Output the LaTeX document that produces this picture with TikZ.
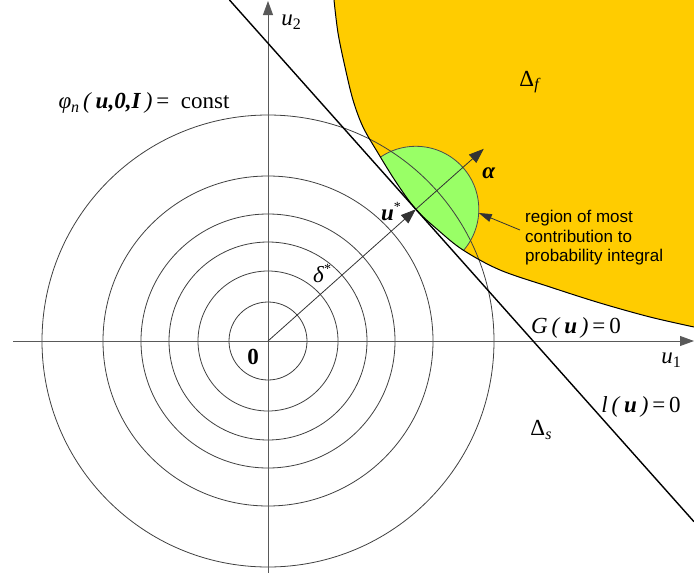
\documentclass[tikz,border=0pt]{standalone}
\usepackage{fontspec}
\setmainfont{Liberation Serif}
\newfontfamily\arialfont{Liberation Sans}
\usetikzlibrary{arrows.meta}
\definecolor{fyellow}{HTML}{FFCC00}
\definecolor{fgreen}{HTML}{99FF66}
\newcommand{\bi}[1]{\textbf{\textit{#1}}}
\newcommand{\lsub}[1]{\raisebox{-0.35ex}{\fontsize{16}{16}\selectfont #1}}
\newcommand{\lsup}[1]{\raisebox{0.85ex}{\fontsize{14}{14}\selectfont #1}}
\begin{document}
\begin{tikzpicture}[x=1pt,y=-1pt,
  every node/.style={font=\fontsize{23}{26}\selectfont, inner sep=0pt},
  circ/.style={draw=black!75, line width=0.8pt},
  axis/.style={draw=black!65, line width=0.8pt, -{Triangle[length=14pt,width=10pt]}},
  vec/.style={draw=black!80, line width=0.8pt, -{Triangle[length=15pt,width=11pt]}},
  arcline/.style={draw=black!70, line width=0.8pt},
  gline/.style={draw=black, line width=1pt},
  lline/.style={draw=black, line width=1.4pt},
  note/.style={font=\arialfont\fontsize{17}{19.5}\selectfont, align=left, anchor=west}
]
\useasboundingbox (0,0) rectangle (694,573);
\def\Gcurve{plot[smooth,tension=0.55] coordinates {(334,0) (338,33) (345,67) (353,100) (363,127) (378,153) (396,182) (415.8,209.3) (438,230) (463,250) (500,270) (550,287) (600,303) (650,317) (694,327)}}
\coordinate (O) at (268,341);
\coordinate (U) at (415.8,209.3);
\coordinate (A) at (483.8,148.8);
\coordinate (L1) at (229.5,0);
\coordinate (L2) at (694,521.7);
\coordinate (X1) at (13,341);
\coordinate (X2) at (694,341);
\coordinate (Y1) at (268,573);
\coordinate (Y2) at (268,1);
\coordinate (arcpt) at (478.8,213);
\coordinate (tail) at (520,230);
% failure region
\fill[fyellow] \Gcurve -- (694,0) -- cycle;
\begin{scope}
  \clip \Gcurve -- (694,0) -- cycle;
  \fill[fgreen] (U) circle (63);
  \draw[arcline] (U) circle (63);
\end{scope}
% circles
\foreach \r in {39,70,99,127,165,226} \draw[circ] (O) circle (\r);
% axes
\draw[axis] (X1) -- (X2);
\draw[axis] (Y1) -- (Y2);
% limit state curve and linearisation
\draw[gline] \Gcurve;
\draw[lline] (L1) -- (L2);
% vectors
\draw[vec] (O) -- (U);
\draw[vec] (U) -- (A);
% labels
\node (u2) at (291,22) {\textit{u}\lsub{2}};
\node (u1) at (671,360) {\textit{u}\lsub{1}};
\node (Df) at (530,82) {Δ\lsub{\textit{f}}};
\node (Ds) at (541,430) {Δ\lsub{\textit{s}}};
\node (Geq) at (576,328) {\textit{G}\,\textit{(}\,\bi{u}\,\textit{)}\,=\,0};
\node (leq) at (641,407) {\textit{l}\,\textit{(}\,\bi{u}\,\textit{)}\,=\,0};
\node (phi) at (144,103) {\textit{φ}\lsub{\textit{n}}\,\textit{(}\,\bi{u,0,I}\,\textit{)}\,=\ \ const};
\node (zero) at (253,357) {\textbf{0}};
\node (delta) at (322,274) {\textit{δ}\lsup{*}};
\node (ustar) at (391,212) {\bi{u}\lsup{*}};
\node (alpha) at (489,173) {\bi{α}};
\node[note] (txt) at (525,238) {region of most\\contribution to\\probability integral};
\draw[-{Triangle[length=13pt,width=8pt]}, line width=0.8pt, draw=black!80] (tail) -- (arcpt);
\end{tikzpicture}
\end{document}
